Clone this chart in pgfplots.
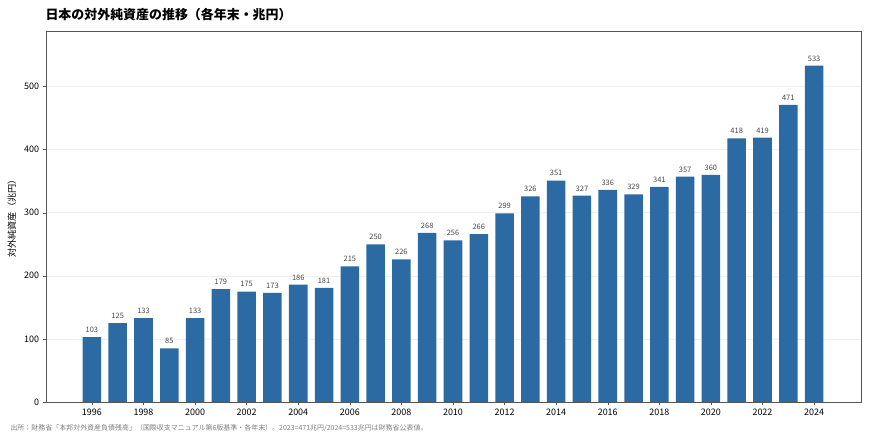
\documentclass[border=0pt]{standalone}
\usepackage{fontspec}
\setmainfont{Noto Sans CJK JP}
\usepackage{pgfplots}
\pgfplotsset{compat=1.18}
\definecolor{barblue}{RGB}{44,106,164}
\definecolor{axisgray}{RGB}{85,85,85}
\definecolor{labgray}{RGB}{70,70,70}
\begin{document}
\begin{tikzpicture}[x=1bp,y=1bp]
  \useasboundingbox (0,0) rectangle (870,435);
  \node[anchor=west, font=\fontsize{13}{15}\selectfont\bfseries] at (42,420) {日本の対外純資産の推移（各年末・兆円）};
  \begin{axis}[at={(46bp,33bp)}, anchor=south west,
               scale only axis,
               width=815bp, height=371bp,
               ybar, bar width=0.72,
               xmin=1994.22, xmax=2025.82,
               ymin=0, ymax=588,
               xtick={1996,1998,...,2024},
               ytick={0,100,...,500},
               x tick label style={/pgf/number format/1000 sep={}},
               /pgf/number format/assume math mode=true,
               tick label style={font=\fontsize{9}{10}\selectfont, color=black},
               tick align=outside, tick pos=left,
               major tick length=3.5bp,
               axis line style={axisgray},
               every tick/.style={axisgray},
               ymajorgrids, grid style={gray!12, line width=0.5pt},
               ylabel={対外純資産（兆円）},
               ylabel style={font=\fontsize{9.2}{10}\selectfont, yshift=1bp},
               nodes near coords,
               nodes near coords style={font=\fontsize{7.5}{8}\selectfont, color=labgray, /pgf/number format/fixed, /pgf/number format/assume math mode=true},
               every node near coord/.append style={yshift=1bp},
               ]
    \addplot[fill=barblue, draw=none] coordinates {
      (1996,103) (1997,125) (1998,133) (1999,85) (2000,133)
      (2001,179) (2002,175) (2003,173) (2004,186) (2005,181)
      (2006,215) (2007,250) (2008,226) (2009,268) (2010,256)
      (2011,266) (2012,299) (2013,326) (2014,351) (2015,327)
      (2016,336) (2017,329) (2018,341) (2019,357) (2020,360)
      (2021,418) (2022,419) (2023,471) (2024,533)
    };
  \end{axis}
  \node[anchor=west, font=\fontsize{7}{8}\selectfont, color=gray] at (7,7) {出所：財務省「本邦対外資産負債残高」（国際収支マニュアル第6版基準・各年末）。2023=471兆円/2024=533兆円は財務省公表値。};
\end{tikzpicture}
\end{document}
